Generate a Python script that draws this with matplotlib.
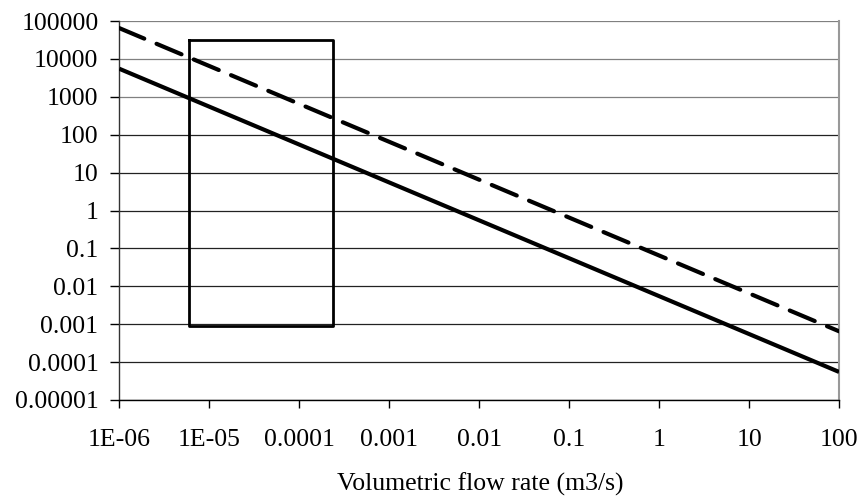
import matplotlib
matplotlib.use("Agg")
import matplotlib.pyplot as plt
from matplotlib.ticker import FixedLocator, FixedFormatter, NullLocator

# Flow-rate axis endpoints (m3/s) and the two curves evaluated there
flow_rate = [1e-6, 1e2]
solid_curve = [5500, 5.5e-5]
dashed_curve = [65000, 6.5e-4]

# Operating window outline
window_x = [6.0e-6, 2.4e-4, 2.4e-4, 6.0e-6, 6.0e-6]
window_y = [3.2e4, 3.2e4, 9.0e-4, 9.0e-4, 3.2e4]

x_ticks = [1e-6, 1e-5, 1e-4, 1e-3, 1e-2, 1e-1, 1, 10, 100]
x_tick_labels = ["1E-06", "1E-05", "0.0001", "0.001", "0.01", "0.1", "1", "10", "100"]
y_ticks = [1e-5, 1e-4, 1e-3, 1e-2, 1e-1, 1, 10, 100, 1000, 10000, 100000]
y_tick_labels = ["0.00001", "0.0001", "0.001", "0.01", "0.1", "1", "10", "100",
                 "1000", "10000", "100000"]

plt.rcParams["font.family"] = ["Liberation Serif", "DejaVu Serif"]
plt.rcParams["font.size"] = 18.5

fig = plt.figure(figsize=(8.62, 4.98), dpi=100)
ax = fig.add_axes([0.1384, 0.1968, 0.835, 0.761])

ax.set_xscale("log")
ax.set_yscale("log")
ax.set_xlim(1e-6, 1e2)
ax.set_ylim(1e-5, 1e5)

# horizontal gridlines (upper ones render lighter)
for yv in y_ticks:
    shade = "#808080" if yv >= 1000 else "#222222"
    ax.axhline(yv, color=shade, lw=0.9, zorder=1)

ax.plot(flow_rate, dashed_curve, color="black", lw=3.0, linestyle=(0, (6.5, 3.2)),
        solid_capstyle="butt", dash_capstyle="round", zorder=3)
ax.plot(flow_rate, solid_curve, color="black", lw=3.0, solid_capstyle="butt", zorder=3)
ax.plot(window_x, window_y, color="black", lw=2.0, zorder=2)

ax.xaxis.set_major_locator(FixedLocator(x_ticks))
ax.xaxis.set_major_formatter(FixedFormatter(x_tick_labels))
ax.xaxis.set_minor_locator(NullLocator())
ax.yaxis.set_major_locator(FixedLocator(y_ticks))
ax.yaxis.set_major_formatter(FixedFormatter(y_tick_labels))
ax.yaxis.set_minor_locator(NullLocator())

ax.tick_params(axis="x", direction="out", length=5.8, width=1, pad=15, color="black")
ax.tick_params(axis="y", direction="out", length=6.5, width=1, pad=8.5, color="black")

ax.spines["top"].set_visible(False)
ax.spines["right"].set_color("#999999")
ax.spines["right"].set_linewidth(1.5)
ax.spines["left"].set_color("#333333")
ax.spines["left"].set_linewidth(1.0)
ax.spines["bottom"].set_color("black")
ax.spines["bottom"].set_linewidth(1.0)

fig.text(0.5568, 1 - 484.0 / 498, "Volumetric flow rate (m3/s)", ha="center", va="center")

fig.savefig("out.png", dpi=100)
